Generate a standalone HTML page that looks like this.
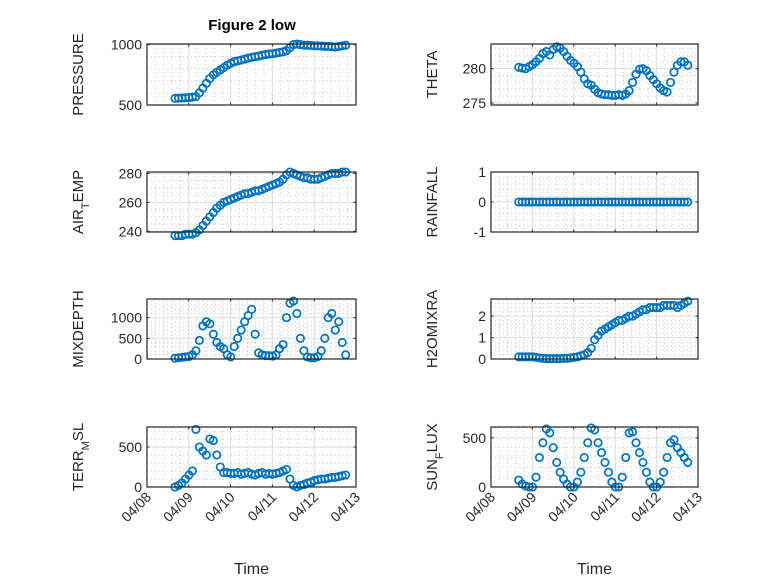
<!DOCTYPE html>
<html><head><meta charset="utf-8">
<style>
html,body{margin:0;padding:0;background:#fff;}
svg{display:block;font-family:"Liberation Sans","DejaVu Sans",sans-serif;}
</style></head>
<body>
<svg id="fig" width="778" height="583" viewBox="0 0 778 583" xmlns="http://www.w3.org/2000/svg">
<rect width="778" height="583" fill="#fff"/>
<text x="252" y="30" text-anchor="middle" font-size="15" font-weight="bold" fill="#000">Figure 2 low</text>
</svg>
<script>
// time axis: days after 04/08 00:00, every 2 hours
const tStart = 0.67;
const tStep = 1/12;
const xTickLabels = ["04/08","04/09","04/10","04/11","04/12","04/13"];
const pressure = [555,557,558,560,562,565,570,600,640,680,720,750,770,790,810,830,845,860,865,872,880,888,895,900,905,912,918,922,925,930,935,940,950,975,1000,1005,1000,995,995,993,990,990,988,985,985,983,980,985,990,995];
const theta = [280.2,280.1,280.0,280.3,280.6,281.0,281.5,282.2,282.5,282.0,282.8,283.2,283.0,282.5,281.8,281.2,280.8,280.3,279.5,278.5,277.8,277.6,277.0,276.5,276.3,276.2,276.2,276.1,276.1,276.2,276.1,276.3,276.8,278.0,279.2,279.9,280.0,279.7,279.0,278.4,277.8,277.2,276.8,276.6,278.0,279.5,280.5,281.0,281.0,280.5];
const airTemp = [237,237,237,238,238,238,239,241,244,247,250,253,256,258,260,261,262,263,264,265,266,266,267,268,268,269,270,271,272,273,274,276,279,281,280,279,278,277,277,276,276,276,277,278,279,280,280,280,281,281];
const rainfall = [0,0,0,0,0,0,0,0,0,0,0,0,0,0,0,0,0,0,0,0,0,0,0,0,0,0,0,0,0,0,0,0,0,0,0,0,0,0,0,0,0,0,0,0,0,0,0,0,0,0];
const mixDepth = [20,30,40,50,60,100,200,450,800,900,850,600,400,300,250,100,50,300,500,700,900,1050,1200,600,150,100,80,80,70,100,250,350,1000,1350,1400,1100,500,200,50,30,30,60,200,500,1000,1100,700,900,400,100];
const h2oMixRa = [0.1,0.1,0.1,0.1,0.1,0.08,0.05,0.03,0.02,0.02,0.02,0.02,0.02,0.03,0.03,0.05,0.08,0.1,0.15,0.2,0.3,0.5,0.9,1.1,1.3,1.4,1.5,1.6,1.7,1.8,1.8,1.9,2.0,2.0,2.1,2.2,2.3,2.3,2.4,2.4,2.4,2.4,2.5,2.5,2.5,2.5,2.4,2.5,2.6,2.7];
const terrMsl = [0,20,50,100,150,200,720,500,450,400,600,580,400,250,180,180,170,170,180,160,170,180,160,150,170,180,160,170,160,170,180,200,220,100,20,0,20,30,50,60,80,90,100,100,110,120,120,130,140,150];
const sunFlux = [70,30,10,0,0,100,300,450,590,550,400,250,150,80,30,0,0,50,150,300,450,600,580,450,350,250,150,50,0,0,100,300,550,560,450,350,250,150,50,0,0,50,150,300,450,480,400,350,300,250];
const pressureTicks = [500,1000];
const thetaTicks = [275,280];
const airTempTicks = [240,260,280];
const rainTicks = [-1,0,1];
const mixTicks = [0,500,1000];
const h2oTicks = [0,1,2];
const terrTicks = [0,500];
const sunTicks = [0,500];

const NS = "http://www.w3.org/2000/svg";
const svg = document.getElementById('fig');
function mk(tag, attrs, parent){const e=document.createElementNS(NS,tag);for(const k in attrs)e.setAttribute(k,attrs[k]);(parent||svg).appendChild(e);return e;}

const colX = [147, 491], axW = [209, 207];
const rowY = [44, 172, 299, 427], axH = [61, 60, 60, 60];

function panel(col,row,name,values,ylim,ticks,minorStep,labelParts,showX){
  const L=colX[col], W=axW[col], T=rowY[row], H=axH[row];
  const g=mk('g',{});
  
  
  const xs=d=>L+d/5*W;
  const ys=v=>T+H-(v-ylim[0])/(ylim[1]-ylim[0])*H;
  for(let d=0; d<5; d+=0.2){ if(Math.abs(d-Math.round(d))<1e-6) continue;
    mk('line',{x1:xs(d),x2:xs(d),y1:T,y2:T+H,stroke:'#c8c8c8','stroke-width':1,'stroke-dasharray':'1,3'},g);}
  for(let v=Math.ceil(ylim[0]/minorStep)*minorStep; v<=ylim[1]; v+=minorStep){
    if(ticks.some(tk=>Math.abs(tk-v)<1e-6)) continue;
    mk('line',{x1:L,x2:L+W,y1:ys(v),y2:ys(v),stroke:'#c8c8c8','stroke-width':1,'stroke-dasharray':'1,3'},g);}
  for(let d=1; d<5; d++) mk('line',{x1:xs(d),x2:xs(d),y1:T,y2:T+H,stroke:'#dcdcdc','stroke-width':1},g);
  ticks.forEach(v=>mk('line',{x1:L,x2:L+W,y1:ys(v),y2:ys(v),stroke:'#dcdcdc','stroke-width':1},g));
  values.forEach((v,i)=>{
    const c=mk('circle',{cx:xs(tStart+i*tStep),cy:ys(v),r:3.7,fill:'none',stroke:'#0072BD','stroke-width':1.7},g);
    
    
  });
  mk('rect',{x:L,y:T,width:W,height:H,fill:'none',stroke:'#262626','stroke-width':1.2},g);
  for(let d=0; d<=5; d++){mk('line',{x1:xs(d),x2:xs(d),y1:T+H,y2:T+H-2.5,stroke:'#262626'},g);mk('line',{x1:xs(d),x2:xs(d),y1:T,y2:T+2.5,stroke:'#262626'},g);}
  ticks.forEach(v=>{
    mk('line',{x1:L,x2:L+2.5,y1:ys(v),y2:ys(v),stroke:'#262626'},g);
    mk('line',{x1:L+W,x2:L+W-2.5,y1:ys(v),y2:ys(v),stroke:'#262626'},g);
    const t=mk('text',{x:L-5,y:ys(v)+5,'text-anchor':'end','font-size':14,fill:'#262626'},g);
    
    
    t.textContent=String(v);
  });
  const lx = col===0 ? 83 : 437;
  const yl=mk('text',{x:0,y:0,'text-anchor':'middle','font-size':15,fill:'#262626',transform:`translate(${lx},${T+H/2}) rotate(-90)`},g);
  
  
  labelParts.forEach(p=>{const s=mk('tspan',{},yl); if(p.sub){s.setAttribute('baseline-shift','sub');s.setAttribute('font-size','11');} s.textContent=p.t;});
  if(showX){
    xTickLabels.forEach((lab,d)=>{
      const t=mk('text',{x:0,y:0,'text-anchor':'end','font-size':14,fill:'#262626',transform:`translate(${xs(d)+5},${T+H+11}) rotate(-45)`},g);
      
      
      t.textContent=lab;
    });
    const xt=mk('text',{x:L+W/2,y:574,'text-anchor':'middle','font-size':16,fill:'#262626'},g);
    
    
    xt.textContent='Time';
  }
}
panel(0,0,'pressure',pressure,[500,1005],pressureTicks,100,[{t:'PRESSURE'}],false);
panel(1,0,'theta',theta,[274.7,283.6],thetaTicks,1,[{t:'THETA'}],false);
panel(0,1,'air-temp',airTemp,[239.5,281],airTempTicks,5,[{t:'AIR'},{t:'T',sub:true},{t:'EMP'}],false);
panel(1,1,'rainfall',rainfall,[-1,1],rainTicks,0.2,[{t:'RAINFALL'}],false);
panel(0,2,'mixdepth',mixDepth,[0,1450],mixTicks,100,[{t:'MIXDEPTH'}],false);
panel(1,2,'h2omixra',h2oMixRa,[0,2.8],h2oTicks,0.2,[{t:'H2OMIXRA'}],false);
panel(0,3,'terr-msl',terrMsl,[0,750],terrTicks,100,[{t:'TERR'},{t:'M',sub:true},{t:'SL'}],true);
panel(1,3,'sun-flux',sunFlux,[0,610],sunTicks,100,[{t:'SUN'},{t:'F',sub:true},{t:'LUX'}],true);
</script>
</body></html>
